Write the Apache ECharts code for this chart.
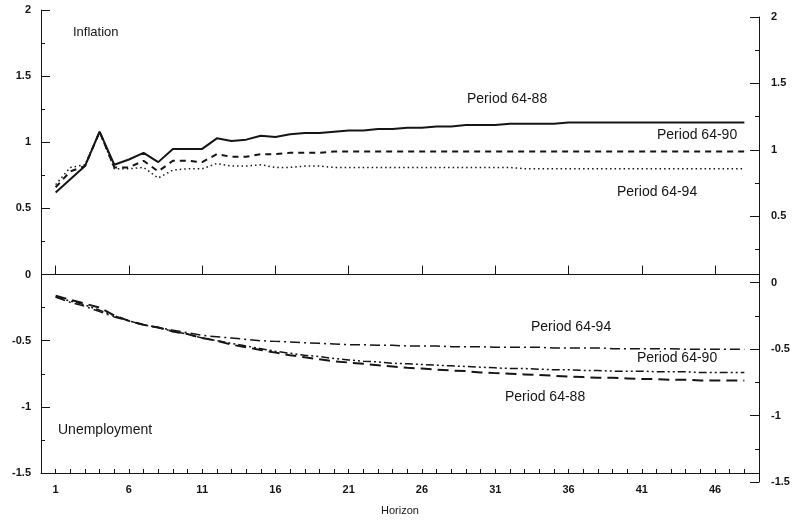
<!DOCTYPE html>
<html><head><meta charset="utf-8">
<script src="https://cdn.jsdelivr.net/npm/echarts@6/dist/echarts.min.js"></script>
<style>html,body{margin:0;padding:0;background:#fff}#c{width:798px;height:521px}</style>
</head><body><div id="c"></div>
<script>
const horizon = [1,2,3,4,5,6,7,8,9,10,11,12,13,14,15,16,17,18,19,20,21,22,23,24,25,26,27,28,29,30,31,32,33,34,35,36,37,38,39,40,41,42,43,44,45,46,47,48];
const axisCats = ['0'].concat(horizon.map(String), ['49']);
const yTicks = [-1.5,-1,-0.5,0,0.5,1,1.5,2];
const xTickLabels = [1,6,11,16,21,26,31,36,41,46];

const infl6488 = [0.62,0.72,0.82,1.08,0.83,0.87,0.92,0.85,0.95,0.95,0.95,1.03,1.01,1.02,1.05,1.04,1.06,1.07,1.07,1.08,1.09,1.09,1.10,1.10,1.11,1.11,1.12,1.12,1.13,1.13,1.13,1.14,1.14,1.14,1.14,1.15,1.15,1.15,1.15,1.15,1.15,1.15,1.15,1.15,1.15,1.15,1.15,1.15];
const infl6490 = [0.66,0.78,0.82,1.08,0.81,0.81,0.86,0.78,0.86,0.86,0.85,0.91,0.89,0.89,0.91,0.91,0.92,0.92,0.92,0.93,0.93,0.93,0.93,0.93,0.93,0.93,0.93,0.93,0.93,0.93,0.93,0.93,0.93,0.93,0.93,0.93,0.93,0.93,0.93,0.93,0.93,0.93,0.93,0.93,0.93,0.93,0.93,0.93];
const infl6494 = [0.68,0.81,0.83,1.08,0.80,0.80,0.81,0.73,0.79,0.80,0.80,0.84,0.82,0.82,0.83,0.81,0.81,0.82,0.82,0.81,0.81,0.81,0.81,0.81,0.81,0.81,0.81,0.81,0.81,0.81,0.81,0.81,0.80,0.80,0.80,0.80,0.80,0.80,0.80,0.80,0.80,0.80,0.80,0.80,0.80,0.80,0.80,0.80];
const unemp6488 = [-0.16,-0.19,-0.22,-0.25,-0.31,-0.35,-0.38,-0.40,-0.43,-0.45,-0.48,-0.50,-0.53,-0.55,-0.57,-0.59,-0.61,-0.625,-0.64,-0.655,-0.665,-0.675,-0.685,-0.695,-0.705,-0.71,-0.72,-0.725,-0.73,-0.74,-0.745,-0.75,-0.755,-0.76,-0.765,-0.77,-0.775,-0.78,-0.78,-0.785,-0.79,-0.79,-0.795,-0.795,-0.80,-0.80,-0.80,-0.80];
const unemp6490 = [-0.17,-0.20,-0.23,-0.27,-0.31,-0.35,-0.38,-0.40,-0.43,-0.45,-0.48,-0.50,-0.52,-0.54,-0.56,-0.58,-0.595,-0.61,-0.62,-0.635,-0.645,-0.655,-0.66,-0.67,-0.675,-0.68,-0.685,-0.69,-0.695,-0.70,-0.705,-0.71,-0.71,-0.715,-0.72,-0.72,-0.725,-0.725,-0.73,-0.73,-0.73,-0.735,-0.735,-0.735,-0.74,-0.74,-0.74,-0.74];
const unemp6494 = [-0.17,-0.21,-0.24,-0.28,-0.32,-0.35,-0.38,-0.40,-0.42,-0.44,-0.46,-0.47,-0.48,-0.49,-0.50,-0.505,-0.51,-0.515,-0.52,-0.525,-0.53,-0.53,-0.535,-0.535,-0.54,-0.54,-0.54,-0.545,-0.545,-0.545,-0.55,-0.55,-0.55,-0.55,-0.555,-0.555,-0.555,-0.555,-0.56,-0.56,-0.56,-0.56,-0.56,-0.565,-0.565,-0.565,-0.565,-0.565];

const ink = '#151515';
const FONT = '"Liberation Sans", Arial, sans-serif';
const pairs = arr => horizon.map((h, i) => [String(h), arr[i]]);

function mkLine(name, arr, type, width) {
  return {
    name, type: 'line', xAxisIndex: 0, yAxisIndex: 0, data: pairs(arr),
    symbol: 'none', smooth: false, silent: true,
    lineStyle: { color: ink, width: width, type: type, cap: 'butt' }
  };
}

const series = [
  mkLine('Inflation 64-88', infl6488, 'solid', 2),
  mkLine('Inflation 64-90', infl6490, [6, 5], 2),
  mkLine('Inflation 64-94', infl6494, [1.5, 3], 1.5),
  mkLine('Unemployment 64-88', unemp6488, [11, 6], 2),
  mkLine('Unemployment 64-90', unemp6490, [8, 3, 2, 3, 2, 3], 1.5),
  mkLine('Unemployment 64-94', unemp6494, [10, 4, 2, 4], 1.5)
];
series[0].markLine = {
  silent: true, symbol: 'none', label: { show: false },
  lineStyle: { color: ink, width: 1, type: 'solid' },
  data: [{ yAxis: 0 }]
};

const txt = (s, x, y, size) => ({
  type: 'text', left: x, top: y,
  style: { text: s, fill: ink, font: `${size}px ${FONT}` }
});

const isMajor = (i) => xTickLabels.indexOf(Number(axisCats[i])) >= 0;
const isTick = (i) => i >= 1 && i <= 48;

const yLabelFmt = v => String(v);
const labelStyle = { color: ink, fontSize: 11, fontWeight: 'bold', fontFamily: FONT };

const chart = echarts.init(document.getElementById('c'), null, { renderer: 'canvas' });
chart.setOption({
  backgroundColor: '#fff',
  animation: false,
  grid: [
    { left: 41, right: 39, top: 10, bottom: 45 },
    { left: 41, right: 39, top: 17, bottom: 39 }
  ],
  xAxis: [
    {
      gridIndex: 0, type: 'category', data: axisCats, boundaryGap: false,
      axisLine: { show: true, onZero: false, lineStyle: { color: ink, width: 1 } },
      axisTick: { show: true, inside: true, length: 4, interval: (i) => isTick(i), lineStyle: { color: ink } },
      axisLabel: Object.assign({ show: true, interval: (i) => isMajor(i), margin: 11 }, labelStyle),
      splitLine: { show: false },
      name: 'Horizon', nameLocation: 'middle', nameGap: 32,
      nameTextStyle: { color: ink, fontSize: 11, fontFamily: FONT }
    },
    {
      gridIndex: 0, type: 'category', data: axisCats, boundaryGap: false, position: 'bottom',
      axisLine: { show: false },
      axisTick: { show: true, inside: true, length: 9, interval: (i) => isMajor(i), lineStyle: { color: ink } },
      axisLabel: { show: false }, splitLine: { show: false }
    },
    {
      gridIndex: 1, type: 'category', data: axisCats, boundaryGap: false, show: false
    }
  ],
  yAxis: [
    {
      gridIndex: 0, type: 'value', min: yTicks[0], max: yTicks[yTicks.length - 1], interval: 0.5,
      position: 'left',
      axisLine: { show: true, onZero: false, lineStyle: { color: ink, width: 1 } },
      axisTick: { show: true, inside: true, length: 9, lineStyle: { color: ink } },
      minorTick: { show: true, splitNumber: 2, length: 4, lineStyle: { color: ink } },
      axisLabel: Object.assign({ margin: 10, formatter: yLabelFmt }, labelStyle),
      splitLine: { show: false }
    },
    {
      gridIndex: 1, type: 'value', min: yTicks[0], max: yTicks[yTicks.length - 1], interval: 0.5,
      position: 'right',
      axisLine: { show: true, onZero: false, lineStyle: { color: ink, width: 1 } },
      axisTick: { show: true, inside: true, length: 9, lineStyle: { color: ink } },
      minorTick: { show: true, splitNumber: 2, length: 4, lineStyle: { color: ink } },
      axisLabel: Object.assign({ margin: 12, formatter: yLabelFmt }, labelStyle),
      splitLine: { show: false }
    }
  ],
  series: series,
  graphic: [
    txt('Inflation', 73, 26, 13),
    txt('Unemployment', 58, 423, 14),
    txt('Period 64-88', 467, 92, 14),
    txt('Period 64-90', 657, 128, 14),
    txt('Period 64-94', 617, 185, 14),
    txt('Period 64-94', 531, 320, 14),
    txt('Period 64-90', 637, 351, 14),
    txt('Period 64-88', 505, 390, 14)
  ]
});
</script></body></html>
